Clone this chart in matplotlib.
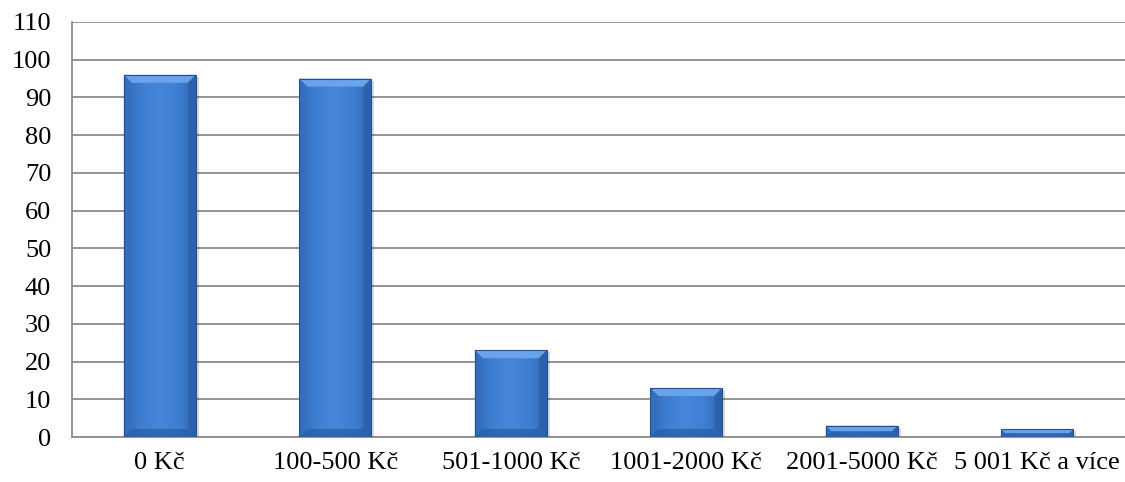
import numpy as np
import matplotlib
matplotlib.use("Agg")
import matplotlib.pyplot as plt
from matplotlib.patches import Polygon
from matplotlib.colors import LinearSegmentedColormap

categories = ["0 Kč", "100-500 Kč", "501-1000 Kč", "1001-2000 Kč", "2001-5000 Kč", "5 001 Kč a více"]
values = [96, 95, 23, 13, 3, 2]
yticks = list(range(0, 111, 10))

plt.rcParams['font.family'] = ['Liberation Serif', 'DejaVu Serif']

fig = plt.figure(figsize=(11.25, 4.82), dpi=100)
ax = fig.add_axes([72 / 1125, 1 - 437 / 482, 1053 / 1125, 415 / 482])

x = np.arange(len(categories))
width = 0.41
ax.set_xlim(-0.5, len(categories) - 0.5)
ax.set_ylim(0, 110)

# px -> data scale factors
sx = (len(categories)) / 1053
sy = 110 / 415

cmap = LinearSegmentedColormap.from_list("bar", ["#3269b5", "#3f7fd3", "#4687da", "#3f7fd3", "#3269b5"])
grad = np.linspace(0, 1, 256).reshape(1, -1)

bars = ax.bar(x, values, width, color="#3d7dd2", zorder=3)
for b in bars:
    x0, w, h = b.get_x(), b.get_width(), b.get_height()
    # soft shadow
    sh = Polygon([(x0 + 2 * sx, 0), (x0 + w + 3 * sx, 0), (x0 + w + 3 * sx, h - 2 * sy),
                  (x0 + 2 * sx, h - 2 * sy)], closed=True, color="#000000", alpha=0.15, lw=0, zorder=2)
    ax.add_patch(sh)
    im = ax.imshow(grad, cmap=cmap, aspect="auto", extent=(x0, x0 + w, 0, h), zorder=3)
    im.set_clip_path(b)
    bev = min(8, h / sy / 2)
    bx, by = bev * sx, bev * sy
    top = Polygon([(x0, h), (x0 + w, h), (x0 + w - bx, h - by), (x0 + bx, h - by)],
                  closed=True, color="#6aa2ec", lw=0, zorder=4)
    ax.add_patch(top)
    left = Polygon([(x0, h), (x0 + bx, h - by), (x0 + bx, by), (x0, 0)],
                   closed=True, color="#3470bf", lw=0, zorder=4, alpha=0.6)
    right = Polygon([(x0 + w, h), (x0 + w - bx, h - by), (x0 + w - bx, by), (x0 + w, 0)],
                    closed=True, color="#285aa0", lw=0, zorder=4, alpha=0.6)
    bottom = Polygon([(x0, 0), (x0 + w, 0), (x0 + w - bx, by), (x0 + bx, by)],
                     closed=True, color="#2a5ca3", lw=0, zorder=4, alpha=0.7)
    for p in (left, right, bottom):
        ax.add_patch(p)
    ax.add_patch(Polygon([(x0, 0), (x0, h), (x0 + w, h), (x0 + w, 0)], closed=True,
                         fill=False, ec="#24528f", lw=0.8, zorder=5))

ax.set_yticks(yticks)
ax.set_xticks(x)
ax.set_xticklabels(categories, fontsize=19)
ax.tick_params(axis='y', labelsize=19, length=0, pad=15)
ax.tick_params(axis='x', length=0, pad=11)
ax.yaxis.grid(True, color="#8c8c8c", lw=1.3, zorder=0)
ax.set_axisbelow(True)
for s in ("top", "right"):
    ax.spines[s].set_visible(False)
ax.spines["left"].set_color("#8c8c8c")
ax.spines["left"].set_linewidth(1.3)
ax.spines["bottom"].set_color("#8c8c8c")
ax.spines["bottom"].set_linewidth(1.3)

fig.savefig("out.png", dpi=100)
